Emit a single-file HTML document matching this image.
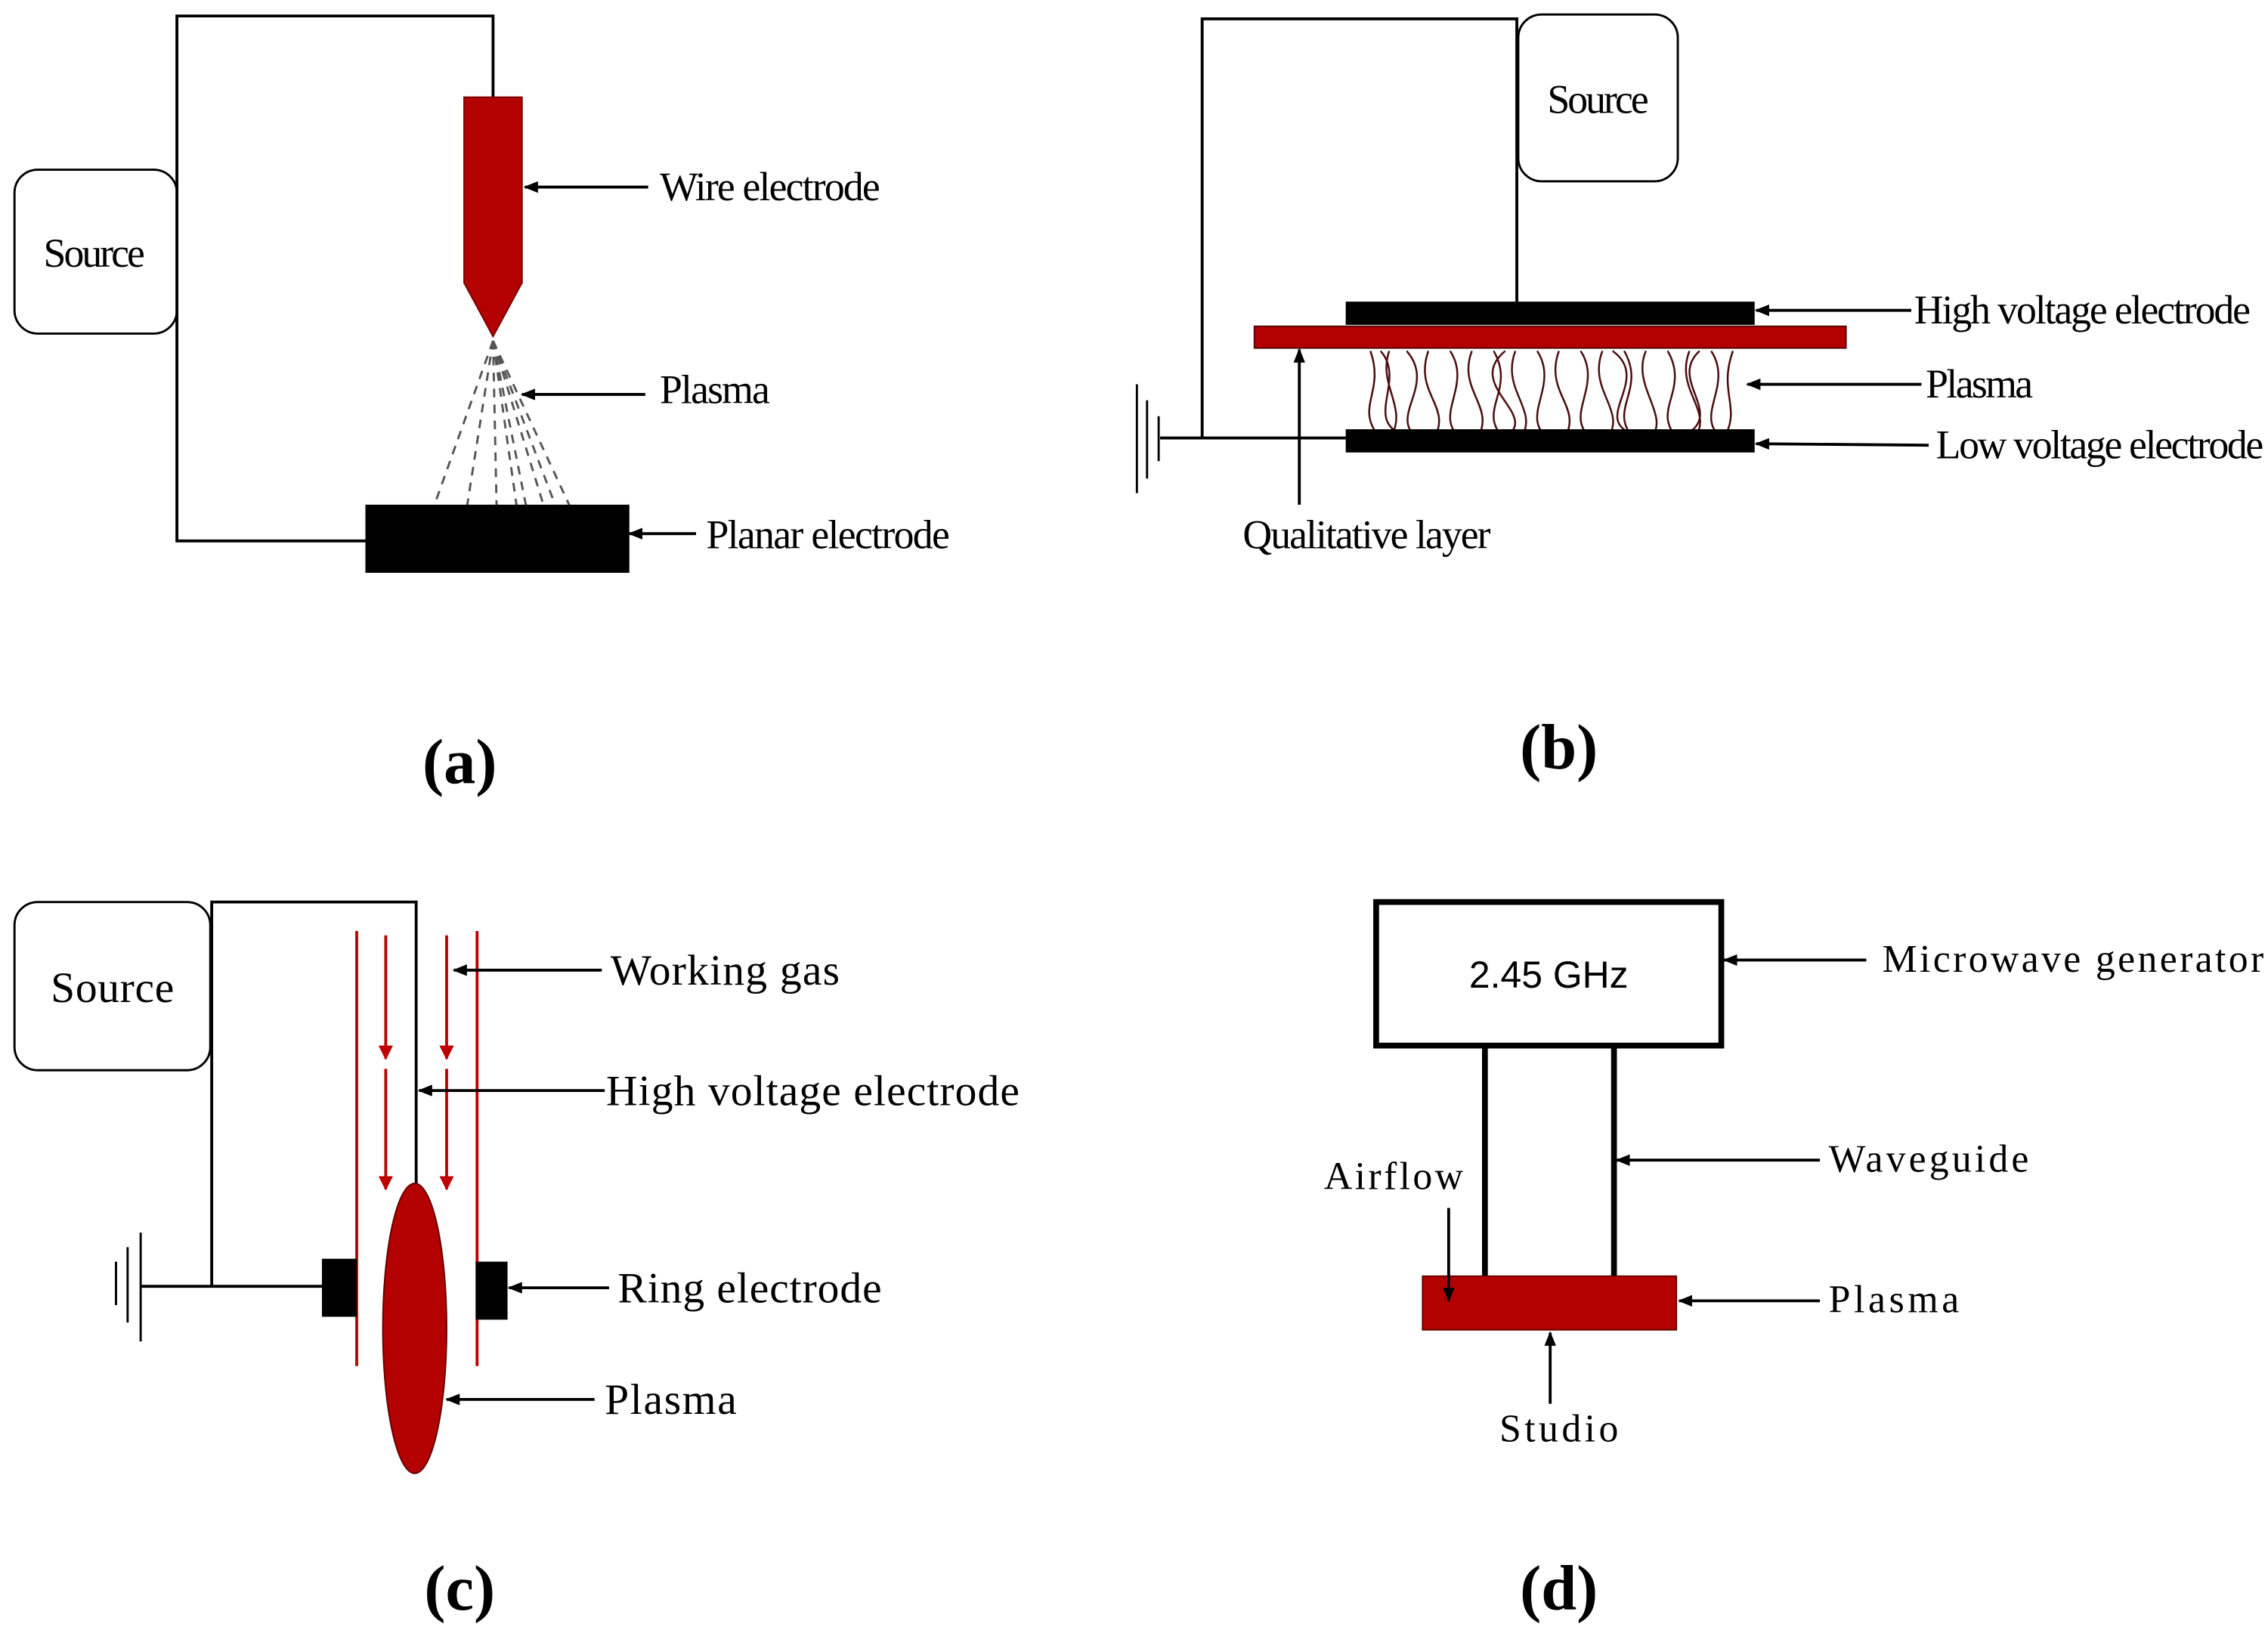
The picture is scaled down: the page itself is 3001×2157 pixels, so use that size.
<!DOCTYPE html>
<html><head><meta charset="utf-8"><style>html,body{margin:0;padding:0;background:#fff}svg{display:block}</style></head>
<body>
<svg width="3001" height="2157" viewBox="0 0 1564 1124" preserveAspectRatio="none" xmlns="http://www.w3.org/2000/svg" font-family="Liberation Serif, serif">
<defs>
<marker id="ah" markerWidth="10" markerHeight="8" refX="9" refY="4" orient="auto" markerUnits="userSpaceOnUse"><path d="M0,0 L10,4 L0,8 Z" fill="#000"/></marker>
<marker id="ar" markerWidth="10" markerHeight="10" refX="9" refY="5" orient="auto" markerUnits="userSpaceOnUse"><path d="M0,0 L10,5 L0,10 Z" fill="#c00000"/></marker>
</defs>
<g stroke="#000" stroke-width="2" fill="none">
<polyline points="340,67 340,11 122,11 122,373 252,373"/>
<rect x="10" y="117" width="112" height="113" rx="16" stroke-width="1.5"/>
<polyline points="1046,208 1046,13 829,13 829,302"/>
<line x1="800" y1="302" x2="928" y2="302"/>
<line x1="784" y1="265" x2="784" y2="340" stroke-width="1.5"/>
<line x1="791" y1="276" x2="791" y2="330" stroke-width="1.5"/>
<line x1="799" y1="287" x2="799" y2="318" stroke-width="1.5"/>
<rect x="1047" y="10" width="110" height="115" rx="16" stroke-width="1.5"/>
<polyline points="146,887 146,622 287,622 287,818"/>
<line x1="97" y1="887" x2="222" y2="887"/>
<line x1="80" y1="870" x2="80" y2="900" stroke-width="1.5"/>
<line x1="88" y1="860" x2="88" y2="912" stroke-width="1.5"/>
<line x1="97" y1="850" x2="97" y2="925" stroke-width="1.5"/>
<rect x="10" y="622" width="135" height="116" rx="16" stroke-width="1.5"/>
<rect x="949" y="622" width="238" height="99" stroke-width="4"/>
<line x1="1024" y1="721" x2="1024" y2="880" stroke-width="4"/>
<line x1="1113" y1="721" x2="1113" y2="880" stroke-width="4"/>
</g>
<path d="M320,67 H360 V195 L340,232 L320,195 Z" fill="#b30000" stroke="#7a0000" stroke-width="1"/>
<g stroke="#555" stroke-width="1.5" stroke-dasharray="6,5">
<line x1="340" y1="235" x2="290" y2="375"/><line x1="340" y1="235" x2="318" y2="375"/>
<line x1="340" y1="235" x2="343" y2="375"/><line x1="340" y1="235" x2="368" y2="375"/>
<line x1="340" y1="235" x2="383" y2="375"/><line x1="340" y1="235" x2="393" y2="375"/>
<line x1="340" y1="235" x2="405" y2="375"/><line x1="340" y1="235" x2="360" y2="375"/>
</g>
<rect x="252" y="348" width="182" height="47" fill="#000"/>
<g stroke="#000" stroke-width="2" marker-end="url(#ah)">
<line x1="447" y1="129" x2="362" y2="129"/>
<line x1="445" y1="272" x2="360" y2="272"/>
<line x1="480" y1="368" x2="434" y2="368"/>
</g>
<g font-size="28">
<text x="30" y="184" textLength="70">Source</text>
<text x="455" y="138" textLength="152">Wire electrode</text>
<text x="455" y="278" textLength="76">Plasma</text>
<text x="487" y="378" textLength="168">Planar electrode</text>
</g>
<text x="317" y="540" font-size="44" font-weight="bold" text-anchor="middle">(a)</text>
<rect x="928" y="208" width="282" height="16" fill="#000"/>
<rect x="865" y="225" width="408" height="15" fill="#b30000" stroke="#500" stroke-width="1"/>
<g stroke="#4a0d0d" stroke-width="1.3" fill="none">
<path d="M945,242 C955,270 935,280 950,300"/><path d="M958,242 C950,265 970,280 960,300"/>
<path d="M970,242 C990,265 960,285 975,300"/><path d="M985,242 C975,270 1000,280 990,300"/>
<path d="M1000,242 C1015,265 990,285 1005,300"/><path d="M1015,242 C1005,268 1030,280 1020,300"/>
<path d="M1030,242 C1045,268 1020,282 1035,300"/><path d="M1045,242 C1035,268 1060,282 1050,300"/>
<path d="M1060,242 C1075,265 1050,285 1065,300"/><path d="M1075,242 C1065,270 1090,280 1080,300"/>
<path d="M1090,242 C1105,265 1080,285 1095,300"/><path d="M1105,242 C1095,268 1120,282 1110,300"/>
<path d="M1120,242 C1135,268 1110,282 1125,300"/><path d="M1135,242 C1125,265 1150,285 1140,300"/>
<path d="M1150,242 C1165,268 1140,282 1155,300"/><path d="M1165,242 C1155,268 1180,282 1170,300"/>
<path d="M1180,242 C1195,265 1170,285 1185,300"/><path d="M1195,242 C1185,270 1200,280 1190,300"/>
<path d="M952,242 C970,262 940,290 968,300"/><path d="M1038,242 C1010,265 1060,285 1040,300"/>
<path d="M1112,242 C1140,262 1095,290 1128,300"/><path d="M1172,242 C1150,262 1190,285 1162,300"/>
</g>
<rect x="928" y="296" width="282" height="16" fill="#000"/>
<g stroke="#000" stroke-width="2" marker-end="url(#ah)">
<line x1="1318" y1="214" x2="1211" y2="214"/>
<line x1="1325" y1="265" x2="1205" y2="265"/>
<line x1="1330" y1="307" x2="1211" y2="306"/>
<line x1="896" y1="348" x2="896" y2="241"/>
</g>
<g font-size="28">
<text x="1067" y="78" textLength="70">Source</text>
<text x="1320" y="223" textLength="232">High voltage electrode</text>
<text x="1328" y="274" textLength="74">Plasma</text>
<text x="1335" y="316" textLength="226">Low voltage electrode</text>
<text x="857" y="378" textLength="171">Qualitative layer</text>
</g>
<text x="1075" y="530" font-size="44" font-weight="bold" text-anchor="middle">(b)</text>
<g stroke="#c00000" stroke-width="2">
<line x1="246" y1="642" x2="246" y2="942"/><line x1="329" y1="642" x2="329" y2="942"/>
</g>
<g stroke="#c00000" stroke-width="2" marker-end="url(#ar)">
<line x1="266" y1="645" x2="266" y2="730"/><line x1="266" y1="737" x2="266" y2="820"/>
<line x1="308" y1="645" x2="308" y2="730"/><line x1="308" y1="737" x2="308" y2="820"/>
</g>
<rect x="222" y="868" width="24" height="40" fill="#000"/>
<rect x="328" y="870" width="22" height="40" fill="#000"/>
<ellipse cx="286" cy="916" rx="22" ry="100" fill="#b30000" stroke="#600" stroke-width="1"/>
<g stroke="#000" stroke-width="2" marker-end="url(#ah)">
<line x1="415" y1="669" x2="313" y2="669"/>
<line x1="417" y1="752" x2="289" y2="752"/>
<line x1="420" y1="888" x2="351" y2="888"/>
<line x1="410" y1="965" x2="308" y2="965"/>
</g>
<g font-size="30">
<text x="35" y="691" textLength="85">Source</text>
<text x="421" y="679" textLength="158">Working gas</text>
<text x="418" y="762" textLength="285">High voltage electrode</text>
<text x="426" y="898" textLength="182">Ring electrode</text>
<text x="417" y="975" textLength="91">Plasma</text>
</g>
<text x="317" y="1110" font-size="44" font-weight="bold" text-anchor="middle">(c)</text>
<rect x="981" y="880" width="175" height="37" fill="#b30000" stroke="#600" stroke-width="1"/>
<g stroke="#000" stroke-width="2" marker-end="url(#ah)">
<line x1="1287" y1="662" x2="1189" y2="662"/>
<line x1="1255" y1="800" x2="1115" y2="800"/>
<line x1="1255" y1="897" x2="1158" y2="897"/>
<line x1="999" y1="833" x2="999" y2="897"/>
<line x1="1069" y1="968" x2="1069" y2="919"/>
</g>
<text x="1068" y="681" font-size="26" font-family="Liberation Sans, sans-serif" text-anchor="middle">2.45 GHz</text>
<g font-size="27">
<text x="1298" y="670" textLength="263">Microwave generator</text>
<text x="1261" y="808" textLength="138">Waveguide</text>
<text x="1261" y="905" textLength="90">Plasma</text>
<text x="913" y="820" textLength="96">Airflow</text>
<text x="1034" y="994" textLength="82">Studio</text>
</g>
<text x="1075" y="1110" font-size="44" font-weight="bold" text-anchor="middle">(d)</text>
</svg>
</body></html>
